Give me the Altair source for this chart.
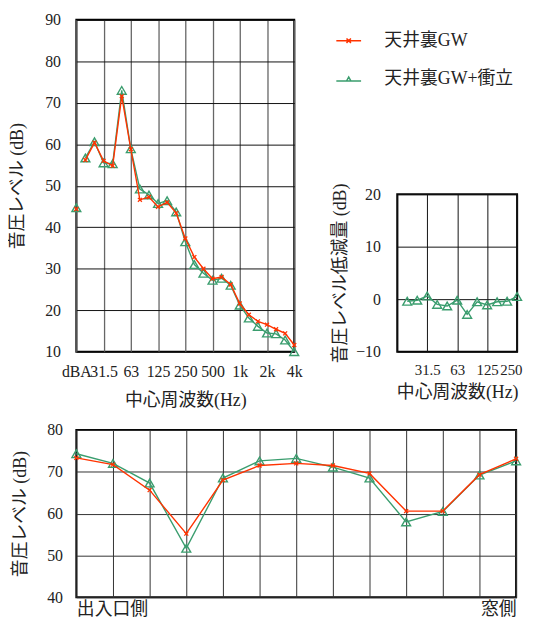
import json
import altair as alt
import pandas as pd

# ---------------- data ----------------
SERIES = ["天井裏GW", "天井裏GW+衝立"]
COLORS = ["#ff3300", "#3a9d6e"]

band_labels = ["20", "25", "31.5", "40", "50", "63", "80", "100", "125", "160",
               "200", "250", "315", "400", "500", "630", "800", "1k", "1.25k",
               "1.6k", "2k", "2.5k", "3.15k", "4k"]
red_dba = 44.4
green_dba = 44.7
red_bands = [56.2, 60.4, 56.0, 54.8, 71.6, 58.8, 46.6, 47.3, 44.9, 46.0, 43.4, 37.3,
             32.8, 30.0, 27.6, 28.0, 26.2, 21.6, 18.9, 17.3, 16.5, 15.4, 14.4, 11.6]
green_bands = [56.7, 60.6, 55.5, 55.3, 73.0, 58.9, 49.2, 47.8, 45.7, 46.4, 43.7, 36.5,
               31.0, 28.9, 27.2, 27.7, 26.0, 21.2, 18.1, 16.1, 14.5, 14.3, 12.8, 10.0]
spectrum_tick_labels = ["dBA", "31.5", "63", "125", "250", "500", "1k", "2k", "4k"]

reduction_bands = band_labels[:12]
reduction = [-0.4, -0.2, 0.6, -1.0, -1.3, -0.2, -2.9, -0.5, -1.1, -0.5, -0.4, 0.5]
reduction_tick_labels = ["", "31.5", "63", "125", "250"]

position_labels = ["出入口側"] + [""] * 11 + ["窓側"]
red_pos = [73.3, 71.7, 65.6, 55.2, 68.0, 71.5, 72.0, 71.5, 69.6, 60.6, 60.6, 69.3, 73.1]
green_pos = [74.3, 72.0, 67.3, 51.7, 68.5, 72.6, 73.2, 71.1, 68.5, 58.0, 60.5, 69.2, 72.6]

# ---------------- tables ----------------
rows = []
for s, dba, bands in [(SERIES[0], red_dba, red_bands), (SERIES[1], green_dba, green_bands)]:
    rows.append({"idx": 0, "band": "dBA", "value": dba, "series": s, "kind": "dba"})
    for i, (b, v) in enumerate(zip(band_labels, bands)):
        rows.append({"idx": i + 1, "band": b, "value": v, "series": s, "kind": "band"})
spec_df = pd.DataFrame(rows)

red_df = pd.DataFrame({"idx": range(len(reduction)), "band": reduction_bands, "value": reduction})

pos_rows = []
for s, vals in [(SERIES[0], red_pos), (SERIES[1], green_pos)]:
    for i, v in enumerate(vals):
        pos_rows.append({"idx": i, "value": v, "series": s, "kind": "band"})
pos_df = pd.DataFrame(pos_rows)

# ---------------- styles ----------------
FONT = "Liberation Serif, Noto Sans CJK JP"
XPATH = "M-0.5,-0.5L0.5,0.5M-0.5,0.5L0.5,-0.5"
LEG_X = "M-2.5,0H2.5M-0.45,-0.45L0.45,0.45M-0.45,0.45L0.45,-0.45"
LEG_T = "M-2.5,0.35H-0.45M0.45,0.35H2.5M-0.45,0.35L0,-0.45L0.45,0.35Z"

H_A, H_B, H_C = 335, 159, 169
GAP_AC = 79


def series_layers(df, xenc, yenc):
    layers = []
    for s, c in [(SERIES[1], COLORS[1]), (SERIES[0], COLORS[0])]:
        sub = df[df["series"] == s]
        line_src = sub[sub["kind"] == "band"]
        layers.append(alt.Chart(line_src).mark_line(color=c, strokeWidth=1.4).encode(x=xenc, y=yenc))
        if s == SERIES[0]:
            pt = alt.Chart(sub).mark_point(shape=XPATH, filled=False, color=c, size=64,
                                           opacity=1, strokeWidth=1.3)
        else:
            pt = alt.Chart(sub).mark_point(shape="triangle-up", filled=False, color=c, size=80,
                                           opacity=1, strokeWidth=1.4)
        layers.append(pt.encode(x=xenc, y=yenc))
    return layers


# ---------------- chart A: spectrum ----------------
xA = alt.X("idx:Q",
           scale=alt.Scale(domain=[0, 24], nice=False, zero=False),
           axis=alt.Axis(values=list(range(0, 25, 3)),
                         labelExpr=json.dumps(spectrum_tick_labels) + "[round(datum.value/3)]",
                         title="中心周波数(Hz)", labelFlush=False, labelOverlap=False,
                         labelPadding=12, titlePadding=12, gridColor="#666", gridWidth=1.3))
yA = alt.Y("value:Q",
           scale=alt.Scale(domain=[10, 90], nice=False, zero=False),
           axis=alt.Axis(values=list(range(10, 91, 10)), title="音圧レベル (dB)",
                         labelPadding=16, titlePadding=18, gridColor="#111"))

legend = alt.Legend(title=None, orient="none", legendX=266, legendY=12,
                    labelFontSize=18, labelFont=FONT, labelColor="#222",
                    labelOffset=27, rowPadding=21, symbolStrokeWidth=1.5, symbolSize=100)
legend_layer = alt.Chart(pd.DataFrame({"series": SERIES})).transform_filter("false").mark_point(
    filled=False, opacity=1, size=100).encode(
    color=alt.Color("series:N", scale=alt.Scale(domain=SERIES, range=COLORS), legend=legend),
    shape=alt.Shape("series:N", scale=alt.Scale(domain=SERIES, range=[LEG_X, LEG_T]), legend=legend),
)

chartA = alt.layer(*series_layers(spec_df, xA, yA), legend_layer).properties(width=220, height=H_A)

# ---------------- chart B: reduction ----------------
xB = alt.X("idx:Q",
           scale=alt.Scale(domain=[-1, 11], nice=False, zero=False),
           axis=alt.Axis(values=[-1, 2, 5, 8, 11],
                         labelExpr=json.dumps(reduction_tick_labels) + "[round((datum.value+1)/3)]",
                         title="中心周波数(Hz)", labelFlush=True, labelFlushOffset=5,
                         labelFontSize=15, labelOverlap=False, labelPadding=11, titlePadding=6,
                         gridColor="#111"))
yB = alt.Y("value:Q",
           scale=alt.Scale(domain=[-10, 20], nice=False, zero=False),
           axis=alt.Axis(values=[-10, 0, 10, 20], title="音圧レベル低減量 (dB)",
                         labelPadding=17, titlePadding=6, gridColor="#111"))
chartB = alt.layer(
    alt.Chart(red_df).mark_line(color=COLORS[1], strokeWidth=1.4).encode(x=xB, y=yB),
    alt.Chart(red_df).mark_point(shape="triangle-up", filled=False, color=COLORS[1], size=80,
                                 opacity=1, strokeWidth=1.4).encode(x=xB, y=yB),
).properties(width=121, height=H_B)

spacer = alt.Chart(pd.DataFrame({"v": [0]})).mark_point(opacity=0).encode(
    x=alt.value(0), y=alt.value(0)).properties(
    width=121, height=H_A - H_B - 10, view=alt.ViewBackground(stroke="transparent"))

right_col = alt.vconcat(spacer, chartB, spacing=10).properties(bounds="flush")

# ---------------- chart C: position ----------------
xC = alt.X("idx:Q",
           scale=alt.Scale(domain=[0, 12], nice=False, zero=False),
           axis=alt.Axis(values=list(range(13)),
                         labelExpr=json.dumps(position_labels, ensure_ascii=False) + "[round(datum.value)]",
                         title=None, labelFlush=True, labelOverlap=False,
                         labelPadding=3, labelFontSize=18, gridColor="#333"))
yC = alt.Y("value:Q",
           scale=alt.Scale(domain=[40, 80], nice=False, zero=False),
           axis=alt.Axis(values=[40, 50, 60, 70, 80], title="音圧レベル (dB)",
                         labelPadding=14, titlePadding=17, gridColor="#333"))
chartC = alt.layer(*series_layers(pos_df, xC, yC)).properties(width=444, height=H_C)

top = alt.hconcat(chartA, right_col, spacing=104).properties(bounds="flush")
# nested concat groups count as zero height under flush bounds, so spacing = A height + gap
chart = alt.vconcat(top, chartC, spacing=H_A + GAP_AC).properties(
    bounds="flush", padding=0
).configure_view(stroke="black", strokeWidth=2).configure_axis(
    labelFont=FONT, titleFont=FONT, labelFontSize=16, titleFontSize=18,
    titleFontWeight="normal", labelColor="#222", titleColor="#222",
    ticks=False, domain=False, grid=True, gridOpacity=1, gridWidth=1,
)

chart.save("out.html", embed_options={"renderer": "svg", "actions": False})
